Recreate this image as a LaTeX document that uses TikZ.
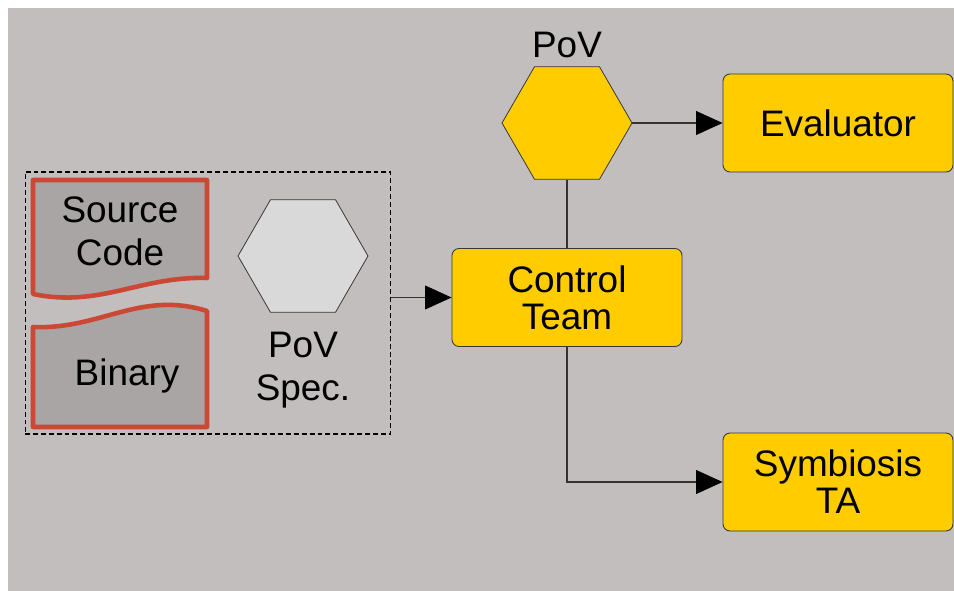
\documentclass[tikz,border=0pt]{standalone}
\usepackage{fontspec}
\setmainfont{Liberation Sans}
\usetikzlibrary{
  arrows.meta,
  shapes.geometric
}
\definecolor{backgray}{RGB}{193,190,189}
\definecolor{docgray}{RGB}{168,165,164}
\definecolor{docred}{RGB}{204,72,52}
\definecolor{boxyellow}{RGB}{255,204,0}
\definecolor{hexgray}{RGB}{217,217,217}
\definecolor{edgegray}{RGB}{55,55,55}
\tikzset{
  >={Triangle[length=15pt,width=13.5pt,color=black]},
  flow/.style={->,line width=.6pt,draw=black!80},
  link/.style={line width=.6pt,draw=black!80},
  box/.style={
    draw=edgegray,
    fill=boxyellow,
    rounded corners=4pt,
    line width=.5pt,
    align=center,
    font=\fontsize{21}{21}\selectfont,
    minimum width=4.6cm,
    minimum height=1.96cm
  },
  hexa/.style={
    regular polygon,
    regular polygon sides=6,
    minimum size=2.6cm,
    inner sep=0pt,
    draw=edgegray,
    line width=.45pt
  },
  doc/.style={draw=docred,fill=docgray,line width=2.6pt,line join=round},
  txt/.style={align=center,inner sep=0pt},
  group/.style={draw=black,line width=.6pt,dash pattern=on 2.8pt off 1.7pt}
}

\begin{document}
\begin{tikzpicture}[x=0.02cm,y=-0.02cm,font=\fontsize{21}{24.5}\selectfont]
  \useasboundingbox (0,0) rectangle (954,591);
  \fill[backgray] (8,8) rectangle (954,591);

  \node[group,minimum width=7.32cm,minimum height=5.24cm] (inputs) at (208,303) {};
  \draw[doc] (33,180) -- (207,180) -- (207,278)
    .. controls (140,276) and (100,308) .. (33,294) -- cycle;
  \node[txt] (src) at (120,231) {Source\\Code};
  \draw[doc] (33,327) .. controls (100,330) and (140,290) .. (207,311)
    -- (207,427) -- (33,427) -- cycle;
  \node[txt] (bin) at (127,376) {Binary};
  \node[hexa,fill=hexgray] (spec) at (303,256) {};
  \node[txt] (spectext) at (303,370) {PoV\\Spec.};

  \node[box] (ctrl) at (567,297.5) {Control\\Team};
  \node[hexa,fill=boxyellow] (pov) at (567,123) {};
  \node[txt] (povtext) at (567,45) {PoV};
  \node[box] (eval) at (838,123) {Evaluator};
  \node[box] (symb) at (838,482) {Symbiosis\\TA};

  \draw[flow] (inputs.east |- ctrl) -- (ctrl);
  \draw[flow] (pov) -- (eval);
  \draw[link] (pov) -- (ctrl);
  \draw[flow] (ctrl) |- (symb);
\end{tikzpicture}
\end{document}
